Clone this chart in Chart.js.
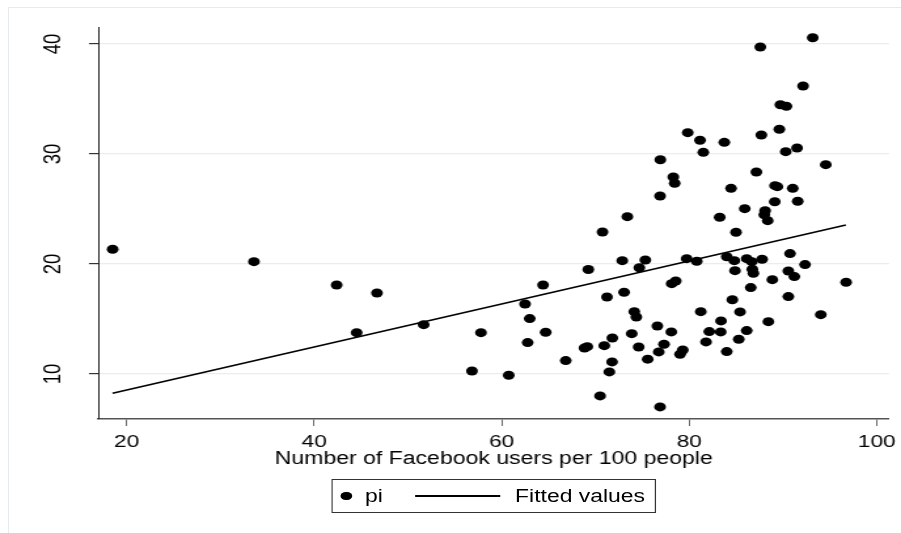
<!DOCTYPE html>
<html>
<head>
<meta charset="utf-8">
<script src="https://cdn.jsdelivr.net/npm/chart.js@4.4.1/dist/chart.umd.min.js"></script>
<style>
  html, body { margin: 0; padding: 0; background: #fff; overflow: hidden; }
  body { width: 901px; height: 533px; position: relative; font-family: "Liberation Sans", Arial, sans-serif; }
  #frame { position: absolute; left: 8px; top: 7px; width: 1000px; height: 1000px;
           border-left: 1.5px solid #e3ebee; border-top: 1.5px solid #e3ebee; }
  /* the picture is stretched sideways, so the chart is drawn narrow and scaled */
  #wrap { position: absolute; left: 0; top: 0; width: 688px; height: 533px;
          transform: scaleX(1.30959); transform-origin: 0 0; }
  #legend { position: absolute; left: 253px; top: 479px; width: 248px; height: 34px;
            border: 1px solid #333; box-sizing: border-box; font-size: 17.5px; color: #000; }
  #legend .dot { position: absolute; left: 6px; top: 11.6px; width: 8.8px; height: 8.8px;
                 border-radius: 50%; background: #000; }
  #legend .line { position: absolute; left: 63px; top: 15.3px; width: 65px; height: 1.5px; background: #000; }
  #legend .txt { position: absolute; top: 6.2px; line-height: 20px; white-space: nowrap; }
</style>
</head>
<body>
<div id="frame"></div>
<div id="wrap">
  <canvas id="chart-pi" width="688" height="533"></canvas>
  <div id="legend">
    <span class="dot"></span><span class="txt" style="left:24.7px">pi</span>
    <span class="line"></span><span class="txt" style="left:139.3px">Fitted values</span>
  </div>
</div>
<script>
// Datos
const xVals = [18.51, 33.58, 42.40, 46.70, 44.53, 51.68, 57.79, 56.83, 60.75, 64.41, 62.49, 62.99, 64.69, 62.77, 66.83,
  68.83, 69.13, 69.24, 70.75, 78.45, 76.89, 84.46, 89.15, 89.40, 91.04, 85.92, 89.12, 91.57, 88.09, 88.01, 88.37, 83.25,
  73.40, 84.99, 72.86, 75.32, 74.68, 79.73, 80.80, 84.00, 84.81, 86.13, 86.67, 87.77, 90.75, 92.35, 84.88, 86.73, 86.84,
  90.57, 91.21, 88.86, 96.73, 78.13, 78.56, 86.56, 71.23, 73.05, 90.57, 84.60, 74.14, 74.36, 81.23, 85.42, 83.39, 88.44,
  94.03, 76.60, 78.09, 73.87, 71.80, 82.14, 83.36, 86.13, 70.94, 74.61, 77.31, 76.75, 75.57, 79.31, 79.02, 81.79, 85.28,
  84.00, 71.77, 71.48, 70.49, 76.89, 87.58, 93.17, 92.14, 89.72, 90.36, 89.61, 87.69, 79.84, 81.15, 81.50, 83.74, 90.29,
  91.50, 94.56, 76.92, 87.16, 78.30];
const piVals = [21.34, 20.21, 18.09, 17.36, 13.75, 14.48, 13.75, 10.27, 9.88, 18.09, 16.36, 15.03, 13.79, 12.85, 11.21,
  12.36, 12.48, 19.50, 22.91, 27.34, 26.18, 26.88, 27.12, 27.03, 26.88, 25.03, 25.66, 25.70, 24.85, 24.48, 23.94, 24.25,
  24.30, 22.88, 20.30, 20.36, 19.66, 20.48, 20.25, 20.66, 20.30, 20.48, 20.21, 20.43, 20.94, 19.94, 19.39, 19.52, 19.15,
  19.36, 18.85, 18.57, 18.34, 18.21, 18.45, 17.85, 17.00, 17.43, 17.03, 16.75, 15.66, 15.18, 15.66, 15.64, 14.82, 14.75,
  15.39, 14.36, 13.82, 13.66, 13.27, 13.85, 13.82, 13.94, 12.57, 12.45, 12.70, 12.00, 11.34, 12.18, 11.79, 12.91, 13.15,
  12.03, 11.09, 10.18, 8.00, 7.00, 39.73, 40.57, 36.18, 34.48, 34.34, 32.25, 31.73, 31.94, 31.25, 30.15, 31.06, 30.21,
  30.55, 29.03, 29.48, 28.36, 27.91];
const fitX = [18.5, 96.7];
const fitY = [8.24, 23.55];
const xTicks = [20, 40, 60, 80, 100];
const yTicks = [10, 20, 30, 40];

const font = 'Liberation Sans';

const ctx = document.getElementById('chart-pi').getContext('2d');
new Chart(ctx, {
    type: 'scatter',
    data: {
        datasets: [{
            label: 'pi',
            data: xVals.map((x, i) => ({ x: x, y: piVals[i] })),
            backgroundColor: '#000',
            borderColor: '#000',
            borderWidth: 0,
            pointRadius: 4.5,
            pointHoverRadius: 4.5
        }, {
            label: 'Fitted values',
            type: 'line',
            data: fitX.map((x, i) => ({ x: x, y: fitY[i] })),
            borderColor: '#000',
            borderWidth: 1.6,
            pointRadius: 0,
            fill: false,
            tension: 0
        }]
    },
    options: {
        responsive: false,
        animation: false,
        devicePixelRatio: 1,
        layout: { padding: { left: 0, top: 27, right: 9.2, bottom: 54 } },
        plugins: {
            legend: { display: false },
            tooltip: { enabled: false }
        },
        scales: {
            x: {
                type: 'linear',
                min: 17,
                max: 101.3,
                afterBuildTicks: s => { s.ticks = xTicks.map(v => ({ value: v })); },
                afterFit: s => { s.height = 60; s.paddingLeft = 0; s.paddingRight = 0; },
                grid: { drawOnChartArea: false, drawTicks: true, tickLength: 7, tickColor: '#444', tickWidth: 0.8 },
                border: { display: true, color: '#555', width: 1.5 },
                ticks: { color: '#000', padding: 6, maxRotation: 0, autoSkip: false, font: { family: font, size: 17.3 } },
                title: {
                    display: true,
                    text: 'Number of Facebook users per 100 people',
                    color: '#000',
                    font: { family: font, size: 17.6 },
                    padding: { top: 0, bottom: 9.5 }
                }
            },
            y: {
                type: 'linear',
                min: 5.9,
                max: 41.55,
                afterBuildTicks: s => { s.ticks = yTicks.map(v => ({ value: v })); },
                afterFit: s => { s.width = 75.2; s.paddingTop = 0; s.paddingBottom = 0; },
                grid: { color: '#e6eef0', lineWidth: 1.2, drawTicks: true, tickLength: 7.25, tickColor: '#333', tickWidth: 1.2 },
                border: { display: true, color: '#222', width: 1 },
                ticks: { color: '#000', minRotation: 90, maxRotation: 90, crossAlign: 'center', padding: 16.6,
                         autoSkip: false, font: { family: font, size: 18.5 } }
            }
        }
    }
});
</script>
</body>
</html>
